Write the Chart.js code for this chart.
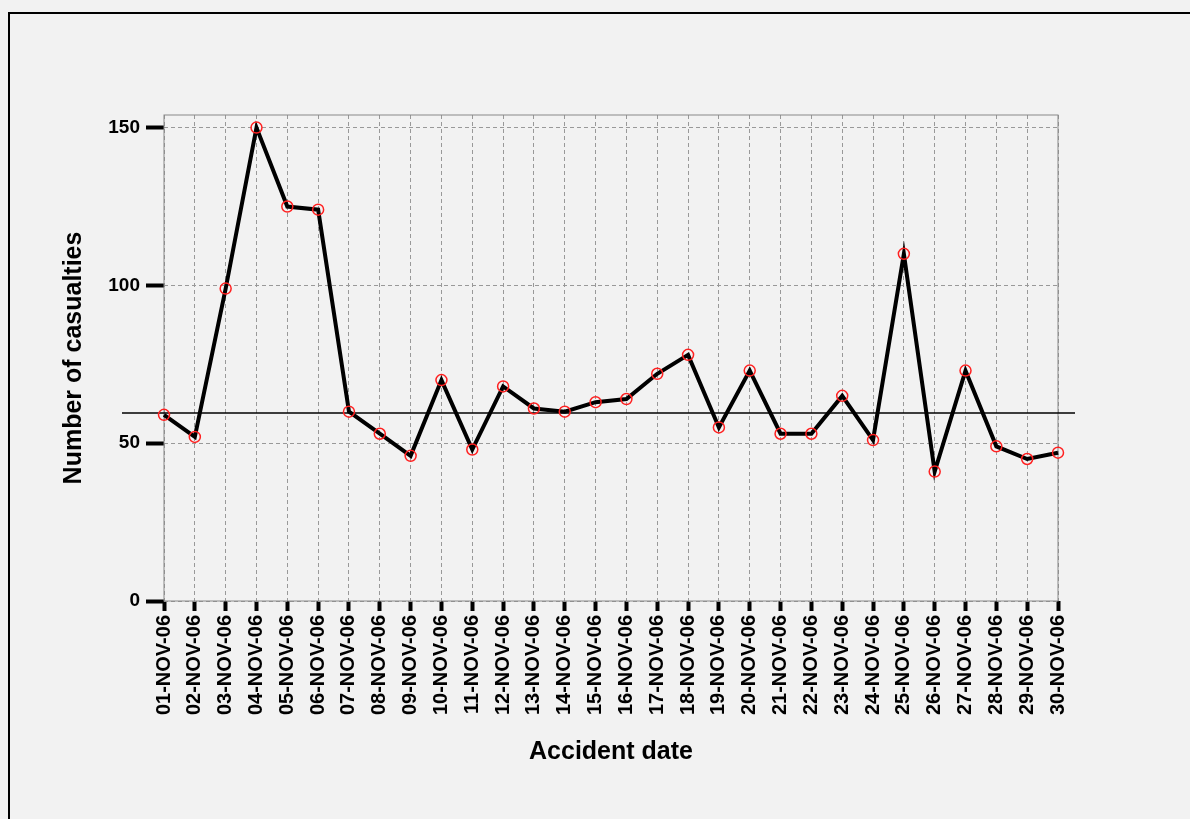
<!DOCTYPE html>
<html lang="en">
  <head>
    <meta charset="UTF-8" />
    <title>Number of casualties by accident date</title>
    <style>
      html, body {
        margin: 0;
        padding: 0;
        background-color: #f2f2f2;
        overflow: hidden;
      }
      #frame {
        position: absolute;
        left: 8px;
        top: 12px;
        right: -10px;
        bottom: -10px;
        border: 2px solid #000;
      }
      #wrap {
        position: absolute;
        left: 0;
        top: 0;
        width: 1190px;
        height: 819px;
      }
    </style>
    <script src="https://cdn.jsdelivr.net/npm/chart.js@4.4.0/dist/chart.umd.min.js"></script>
  </head>
  <body>
    <div id="frame"></div>
    <div id="wrap"><canvas id="casualtiesChart"></canvas></div>
    <script>
      const dates = [
        "01-NOV-06", "02-NOV-06", "03-NOV-06", "04-NOV-06", "05-NOV-06",
        "06-NOV-06", "07-NOV-06", "08-NOV-06", "09-NOV-06", "10-NOV-06",
        "11-NOV-06", "12-NOV-06", "13-NOV-06", "14-NOV-06", "15-NOV-06",
        "16-NOV-06", "17-NOV-06", "18-NOV-06", "19-NOV-06", "20-NOV-06",
        "21-NOV-06", "22-NOV-06", "23-NOV-06", "24-NOV-06", "25-NOV-06",
        "26-NOV-06", "27-NOV-06", "28-NOV-06", "29-NOV-06", "30-NOV-06",
      ];
      const casualties = [
        59, 52, 99, 150, 125, 124, 60, 53, 46, 70,
        48, 68, 61, 60, 63, 64, 72, 78, 55, 73,
        53, 53, 65, 51, 110, 41, 73, 49, 45, 47,
      ];
      const yTicks = [0, 50, 100, 150];
      const yMax = 154;
      const referenceValue = 59.6;

      Chart.defaults.font.family = "'Liberation Sans', Arial, sans-serif";
      Chart.defaults.color = "#000";

      // plot frame + horizontal reference line
      const framePlugin = {
        id: "framePlugin",
        beforeDatasetsDraw(chart) {
          const { ctx, chartArea } = chart;
          const y = chart.scales.y.getPixelForValue(referenceValue);
          ctx.save();
          ctx.strokeStyle = "#888";
          ctx.lineWidth = 1;
          ctx.strokeRect(chartArea.left, chartArea.top, chartArea.right - chartArea.left, chartArea.bottom - chartArea.top);
          ctx.strokeStyle = "#000";
          ctx.lineWidth = 1.5;
          ctx.beginPath();
          ctx.moveTo(chartArea.left - 42, y);
          ctx.lineTo(chartArea.right + 17, y);
          ctx.stroke();
          ctx.restore();
        },
      };

      new Chart(document.getElementById("casualtiesChart"), {
        type: "line",
        data: {
          labels: dates,
          datasets: [
            {
              label: "Number of casualties",
              data: casualties,
              borderColor: "#000",
              borderWidth: 4,
              tension: 0,
              pointRadius: 5.5,
              pointBorderWidth: 1.5,
              pointBorderColor: "#ff2020",
              pointBackgroundColor: "rgba(0,0,0,0)",
            },
          ],
        },
        options: {
          responsive: true,
          maintainAspectRatio: false,
          animation: false,
          layout: {
            padding: { top: 115, right: 132, bottom: 0, left: 0 },
          },
          plugins: {
            legend: { display: false },
            tooltip: { enabled: false },
          },
          scales: {
            x: {
              offset: false,
              afterFit(scale) {
                scale.height = 218;
              },
              grid: {
                color: "#999",
                lineWidth: 1,
                tickColor: "#000",
                tickWidth: 4,
                tickLength: 10,
              },
              border: { display: false, dash: [4, 3] },
              ticks: {
                autoSkip: false,
                maxRotation: 90,
                minRotation: 90,
                padding: 4,
                font: { size: 20, weight: "bold" },
              },
              title: {
                display: true,
                text: "Accident date",
                font: { size: 25, weight: "bold" },
                padding: { top: 0, bottom: 52 },
              },
            },
            y: {
              min: 0,
              max: yMax,
              afterFit(scale) {
                scale.width = 164;
              },
              afterBuildTicks(scale) {
                scale.ticks = yTicks.map((v) => ({ value: v }));
              },
              grid: {
                color: "#999",
                lineWidth: 1,
                tickColor: "#000",
                tickWidth: 4,
                tickLength: 18,
              },
              border: { display: false, dash: [4, 3] },
              ticks: {
                padding: 6,
                font: { size: 19, weight: "bold" },
              },
              title: {
                display: true,
                text: "Number of casualties",
                font: { size: 25, weight: "bold" },
                padding: { top: 59, bottom: 0 },
              },
            },
          },
        },
        plugins: [framePlugin],
      });
    </script>
  </body>
</html>
